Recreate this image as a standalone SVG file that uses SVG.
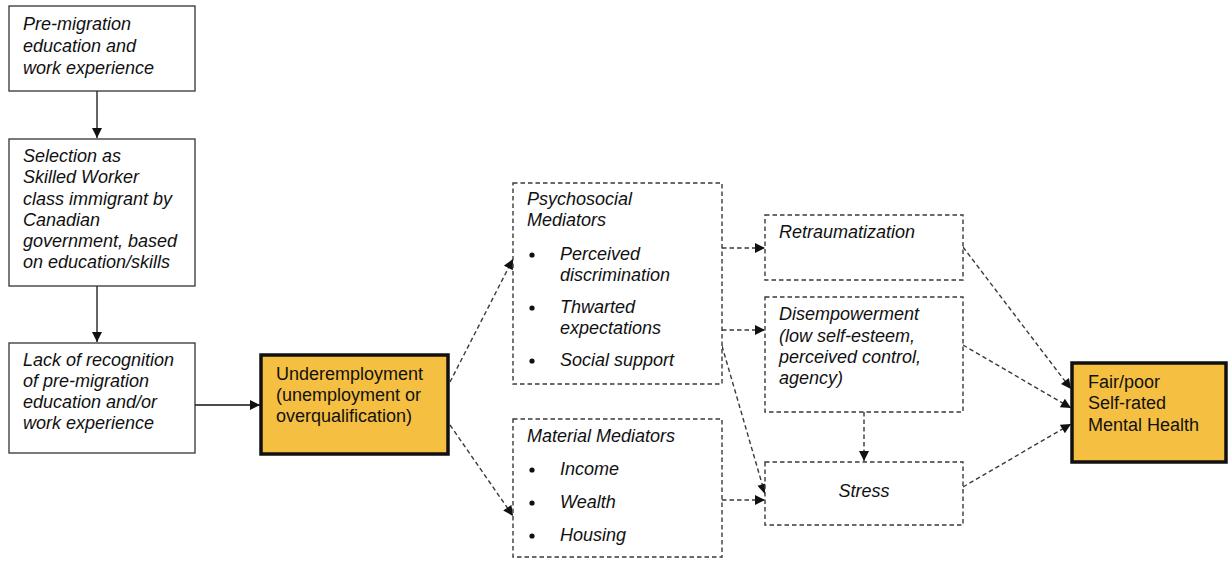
<svg xmlns="http://www.w3.org/2000/svg" width="1231" height="565" viewBox="0 0 1231 565">
<style>
text{font-family:"Liberation Sans",Arial,sans-serif;font-size:18px;fill:#111}
.it{font-style:italic}
.solid{fill:#fff;stroke:#333;stroke-width:1.3}
.dash{fill:#fff;stroke:#3a3a3a;stroke-width:1.4;stroke-dasharray:4.5 3}
.key{fill:#F5BF41;stroke:#111;stroke-width:3.5}
.c{fill:none;stroke:#111;stroke-width:1.3}
.cd{fill:none;stroke:#3a3a3a;stroke-width:1.4;stroke-dasharray:4.5 3}
.b{fill:#111}
</style>
<defs>
<marker id="ah" viewBox="0 0 10 10" refX="10" refY="5" markerWidth="11" markerHeight="10" markerUnits="userSpaceOnUse" orient="auto">
<path d="M0,0 L10,5 L0,10 z" fill="#111"/>
</marker>
</defs>
<g id="connectors">
<line class="c" x1="97" y1="91" x2="97" y2="138" marker-end="url(#ah)"/>
<line class="c" x1="97" y1="286" x2="97" y2="342" marker-end="url(#ah)"/>
<line class="c" x1="195" y1="405" x2="260" y2="405" marker-end="url(#ah)"/>
<line class="cd" x1="450" y1="382" x2="513" y2="259" marker-end="url(#ah)"/>
<line class="cd" x1="450" y1="425" x2="513" y2="516" marker-end="url(#ah)"/>
<line class="cd" x1="722" y1="248" x2="765" y2="248" marker-end="url(#ah)"/>
<line class="cd" x1="722" y1="330" x2="765" y2="330" marker-end="url(#ah)"/>
<line class="cd" x1="722" y1="346" x2="765" y2="494" marker-end="url(#ah)"/>
<line class="cd" x1="722" y1="500" x2="765" y2="500" marker-end="url(#ah)"/>
<line class="cd" x1="864" y1="412" x2="864" y2="461" marker-end="url(#ah)"/>
<line class="cd" x1="963" y1="247" x2="1071" y2="389" marker-end="url(#ah)"/>
<line class="cd" x1="963" y1="345" x2="1071" y2="408" marker-end="url(#ah)"/>
<line class="cd" x1="963" y1="487" x2="1071" y2="424" marker-end="url(#ah)"/>
</g>
<g id="premigration">
<rect class="solid" x="9" y="6" width="186" height="85"/>
<text class="it" x="23" y="30">Pre-migration</text>
<text class="it" x="23" y="52">education and</text>
<text class="it" x="23" y="74">work experience</text>
</g>
<g id="selection">
<rect class="solid" x="9" y="139" width="186" height="147"/>
<text class="it" x="23" y="162">Selection as</text>
<text class="it" x="23" y="183">Skilled Worker</text>
<text class="it" x="23" y="205">class immigrant by</text>
<text class="it" x="23" y="226">Canadian</text>
<text class="it" x="23" y="247">government, based</text>
<text class="it" x="23" y="268">on education/skills</text>
</g>
<g id="lack">
<rect class="solid" x="9" y="343" width="186" height="110"/>
<text class="it" x="23" y="366">Lack of recognition</text>
<text class="it" x="23" y="387">of pre-migration</text>
<text class="it" x="23" y="408">education and/or</text>
<text class="it" x="23" y="429">work experience</text>
</g>
<g id="underemployment">
<rect class="key" x="261" y="355" width="187" height="99"/>
<text x="276" y="380">Underemployment</text>
<text x="276" y="401">(unemployment or</text>
<text x="276" y="422">overqualification)</text>
</g>
<g id="psychosocial">
<rect class="dash" x="513" y="183" width="209" height="201"/>
<text class="it" x="527" y="205">Psychosocial</text>
<text class="it" x="527" y="226">Mediators</text>
<circle class="b" cx="532" cy="255" r="2.6"/>
<text class="it" x="560" y="260">Perceived</text>
<text class="it" x="560" y="281">discrimination</text>
<circle class="b" cx="532" cy="308" r="2.6"/>
<text class="it" x="560" y="313">Thwarted</text>
<text class="it" x="560" y="334">expectations</text>
<circle class="b" cx="532" cy="361" r="2.6"/>
<text class="it" x="560" y="366">Social support</text>
</g>
<g id="material">
<rect class="dash" x="513" y="419" width="209" height="138"/>
<text class="it" x="527" y="442">Material Mediators</text>
<circle class="b" cx="532" cy="470" r="2.6"/>
<text class="it" x="560" y="475">Income</text>
<circle class="b" cx="532" cy="503" r="2.6"/>
<text class="it" x="560" y="508">Wealth</text>
<circle class="b" cx="532" cy="536" r="2.6"/>
<text class="it" x="560" y="541">Housing</text>
</g>
<g id="retraumatization">
<rect class="dash" x="765" y="215" width="198" height="65"/>
<text class="it" x="779" y="238">Retraumatization</text>
</g>
<g id="disempowerment">
<rect class="dash" x="765" y="297" width="198" height="115"/>
<text class="it" x="779" y="320">Disempowerment</text>
<text class="it" x="779" y="342">(low self-esteem,</text>
<text class="it" x="779" y="363">perceived control,</text>
<text class="it" x="779" y="384">agency)</text>
</g>
<g id="stress">
<rect class="dash" x="765" y="462" width="198" height="63"/>
<text class="it" x="864" y="497" text-anchor="middle">Stress</text>
</g>
<g id="mentalhealth">
<rect class="key" x="1072" y="363" width="154" height="99"/>
<text x="1088" y="388">Fair/poor</text>
<text x="1088" y="409">Self-rated</text>
<text x="1088" y="431">Mental Health</text>
</g>
</svg>
